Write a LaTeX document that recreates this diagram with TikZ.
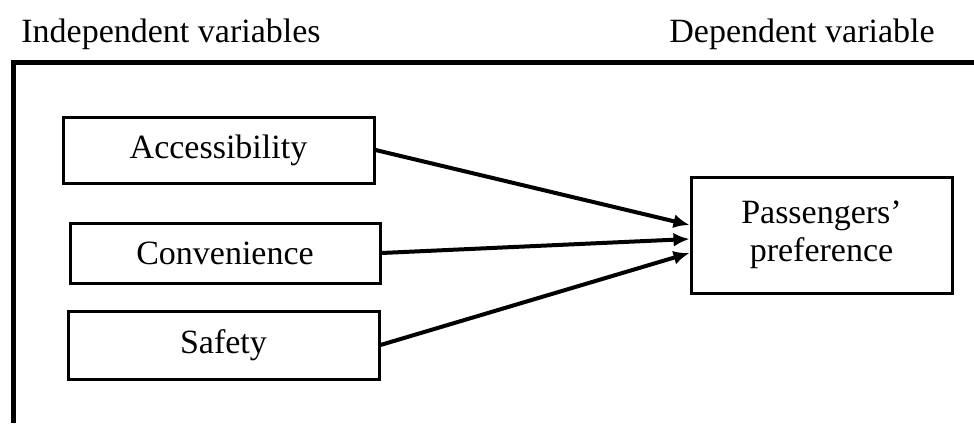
\documentclass[tikz,border=0pt]{standalone}
\usepackage{fontspec}
\setmainfont{Liberation Serif}
\usetikzlibrary{arrows.meta}

\begin{document}
\begin{tikzpicture}[x=0.5pt,y=-0.5pt,
    var/.style={draw,line width=1.5pt,inner sep=0pt,align=center,font=\fontsize{17}{19}\selectfont},
    head/.style={anchor=base,inner sep=0pt,font=\fontsize{17}{19}\selectfont},
    link/.style={-{Latex[length=8pt,width=7pt]},line width=2pt}]
          \useasboundingbox (0,0) rectangle (974,423);
          % headings and frame
          \node[head](indep)  at (171,42)    {Independent variables};
          \node[head](dep)    at (802,42)    {Dependent variable};
          \draw[line width=2.5pt] (974,62) -| (13,423);
          % variables
          \node[var,minimum width=155.5pt,minimum height=33pt](acc)   at (218.5,150) {Accessibility};
          \node[var,minimum width=155pt,minimum height=30pt](conv)    at (225,253)   {Convenience};
          \node[var,minimum width=155.5pt,minimum height=34pt](safe)  at (223.5,345) {Safety};
          \node[var,minimum width=130.5pt,minimum height=58pt](pref)  at (821.5,235) {Passengers’\\preference};
          \path[link]
            (acc.east)  edge ([yshift=5pt]pref.west)
            (conv.east) edge ([yshift=-2pt]pref.west)
            (safe.east) edge ([yshift=-9pt]pref.west)
            ;
        \end{tikzpicture}
\end{document}
